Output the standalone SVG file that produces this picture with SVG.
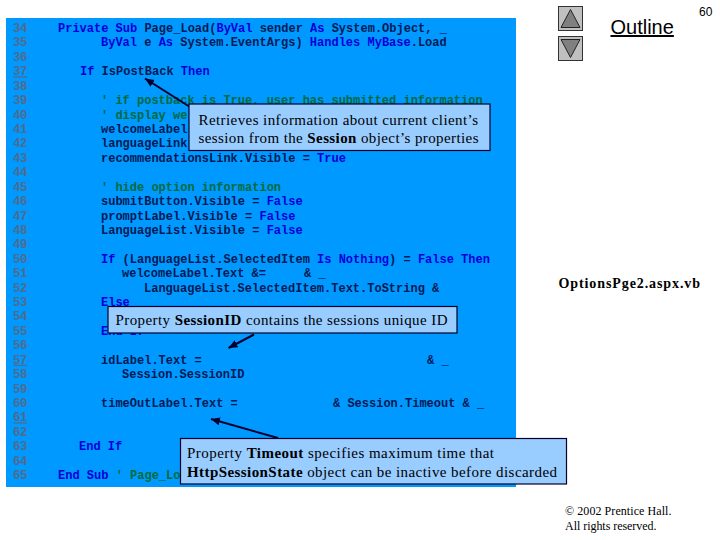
<svg xmlns="http://www.w3.org/2000/svg" width="720" height="540" viewBox="0 0 720 540">
<style>
text{white-space:pre}
.c{font:bold 12px "Liberation Mono",monospace;fill:#001a55}
.k{fill:#0000d8}
.g{fill:#006b3c}
.n{font:bold 12.500px "Liberation Mono",monospace;fill:#4f6c8c;letter-spacing:-.5px}
.u{text-decoration:underline}
.box{fill:#99ccff;stroke:#00002a;stroke-width:1.2}
.t{font:15px "Liberation Serif",serif;fill:#000}
.f{font:bold 14px "Liberation Serif",serif;fill:#000}
.b{font-weight:bold}
.btn{fill:#c0c0c0;stroke:#333;stroke-width:1}
.tri{fill:#808080;stroke:#222;stroke-width:1}
.arrow{fill:none;stroke:#00002e;stroke-width:2;marker-end:url(#h)}
</style>
<defs><marker id="h" markerUnits="userSpaceOnUse" markerWidth="10" markerHeight="10" refX="9" refY="4" orient="auto"><path d="M0 0L9 4L0 8Z" fill="#00002e"/></marker></defs>
<rect width="720" height="540" fill="#fff"/>
<g id="code-panel">
<rect x="6" y="18" width="510" height="469" fill="#0099ff"/>
<g id="line-numbers">
<text class="n" x="13" y="32">34</text><text class="n" x="13" y="46.4">35</text><text class="n" x="13" y="60.8">36</text><text class="n u" x="13" y="75.3">37</text><text class="n" x="13" y="89.7">38</text><text class="n" x="13" y="104.1">39</text><text class="n" x="13" y="118.5">40</text><text class="n" x="13" y="132.9">41</text><text class="n" x="13" y="147.4">42</text><text class="n" x="13" y="161.8">43</text><text class="n" x="13" y="176.2">44</text><text class="n" x="13" y="190.6">45</text><text class="n" x="13" y="205">46</text><text class="n" x="13" y="219.5">47</text><text class="n" x="13" y="233.9">48</text><text class="n" x="13" y="248.3">49</text><text class="n" x="13" y="262.7">50</text><text class="n" x="13" y="277.1">51</text><text class="n" x="13" y="291.6">52</text><text class="n" x="13" y="306">53</text><text class="n" x="13" y="320.4">54</text><text class="n" x="13" y="334.8">55</text><text class="n" x="13" y="349.2">56</text><text class="n u" x="13" y="363.7">57</text><text class="n" x="13" y="378.1">58</text><text class="n" x="13" y="392.5">59</text><text class="n" x="13" y="406.9">60</text><text class="n u" x="13" y="421.3">61</text><text class="n" x="13" y="435.8">62</text><text class="n" x="13" y="450.2">63</text><text class="n" x="13" y="464.6">64</text><text class="n" x="13" y="479">65</text>
</g>
<g id="code">
<text class="c" x="58" y="32"><tspan class="k">Private Sub</tspan> Page_Load(<tspan class="k">ByVal</tspan> sender <tspan class="k">As</tspan> System.Object, _</text>
<text class="c" x="101" y="46.4"><tspan class="k">ByVal</tspan> e <tspan class="k">As</tspan> System.EventArgs) <tspan class="k">Handles</tspan> <tspan class="k">MyBase</tspan>.Load</text>
<text class="c" x="80" y="75.3"><tspan class="k">If</tspan> IsPostBack <tspan class="k">Then</tspan></text>
<text class="c g" x="101" y="104.1">' if postback is True, user has submitted information</text>
<text class="c g" x="101" y="118.5">' display we</text>
<text class="c" x="101" y="132.9">welcomeLabel</text>
<text class="c" x="101" y="147.4">languageLink</text>
<text class="c" x="101" y="161.8">recommendationsLink.Visible = <tspan class="k">True</tspan></text>
<text class="c g" x="101" y="190.6">' hide option information</text>
<text class="c" x="101" y="205">submitButton.Visible = <tspan class="k">False</tspan></text>
<text class="c" x="101" y="219.5">promptLabel.Visible = <tspan class="k">False</tspan></text>
<text class="c" x="101" y="233.9">LanguageList.Visible = <tspan class="k">False</tspan></text>
<text class="c" x="101" y="262.7"><tspan class="k">If</tspan> (LanguageList.SelectedItem <tspan class="k">Is Nothing</tspan>) = <tspan class="k">False Then</tspan></text>
<text class="c" x="122" y="277.1">welcomeLabel.Text &amp;=<tspan x="304">&amp; _</tspan></text>
<text class="c" x="144" y="291.6">LanguageList.SelectedItem.Text.ToString &amp;</text>
<text class="c k" x="101" y="306">Else</text>
<text class="c k" x="101" y="334.8">End If</text>
<text class="c" x="101" y="363.7">idLabel.Text =<tspan x="427">&amp; _</tspan></text>
<text class="c" x="122" y="378.1">Session.SessionID</text>
<text class="c" x="101" y="406.9">timeOutLabel.Text =<tspan x="333">&amp; Session.Timeout &amp; _</tspan></text>
<text class="c k" x="79" y="450.2">End If</text>
<text class="c" x="58" y="479"><tspan class="k">End Sub</tspan> <tspan class="g">' Page_Lo</tspan></text>
</g>
</g>
<g id="connectors">
<path class="arrow" d="M190 107L145 78.5"/>
<path class="arrow" d="M254 334.500L228.500 348"/>
<path class="arrow" d="M278 438L211 419"/>
</g>
<g id="callout-session">
<rect class="box" x="189" y="104" width="301" height="46.500"/>
<text class="t" x="198.500" y="124.500" textLength="279.500">Retrieves information about current client’s</text>
<text class="t" x="198.500" y="143" textLength="280">session from the <tspan class="b">Session</tspan> object’s properties</text>
</g>
<g id="callout-sessionid">
<rect class="box" x="108" y="306.500" width="349" height="26.500"/>
<text class="t" x="115.500" y="325" textLength="332">Property <tspan class="b">SessionID</tspan> contains the sessions unique ID</text>
</g>
<g id="callout-timeout">
<rect class="box" x="180.500" y="438.500" width="386" height="45.500"/>
<text class="t" x="187" y="458" textLength="307">Property <tspan class="b">Timeout</tspan> specifies maximum time that</text>
<text class="t" x="187" y="477" textLength="370"><tspan class="b">HttpSessionState</tspan> object can be inactive before discarded</text>
</g>
<g id="outline-nav">
<rect class="btn" x="558.500" y="6.500" width="24" height="24"/><path class="tri" d="M570.500 9.500L561 27.500H580Z"/>
<rect class="btn" x="558.500" y="36.500" width="24" height="24"/><path class="tri" d="M561 39.500H580L570.500 57.500Z"/>
<text x="610.500" y="34" style="font:20px 'Liberation Sans',sans-serif;text-decoration:underline" fill="#000">Outline</text>
<text x="699" y="16" style="font:12px 'Liberation Sans',sans-serif" fill="#000">60</text>
</g>
<g id="file-name"><text class="f" x="558.500" y="288" textLength="141.500">OptionsPge2.aspx.vb</text></g>
<g id="copyright">
<text x="565" y="515" style="font:12px 'Liberation Serif',serif" fill="#000" textLength="106.500">© 2002 Prentice Hall.</text>
<text x="565" y="530" style="font:12px 'Liberation Serif',serif" fill="#000" textLength="91.500">All rights reserved.</text>
</g>
</svg>
